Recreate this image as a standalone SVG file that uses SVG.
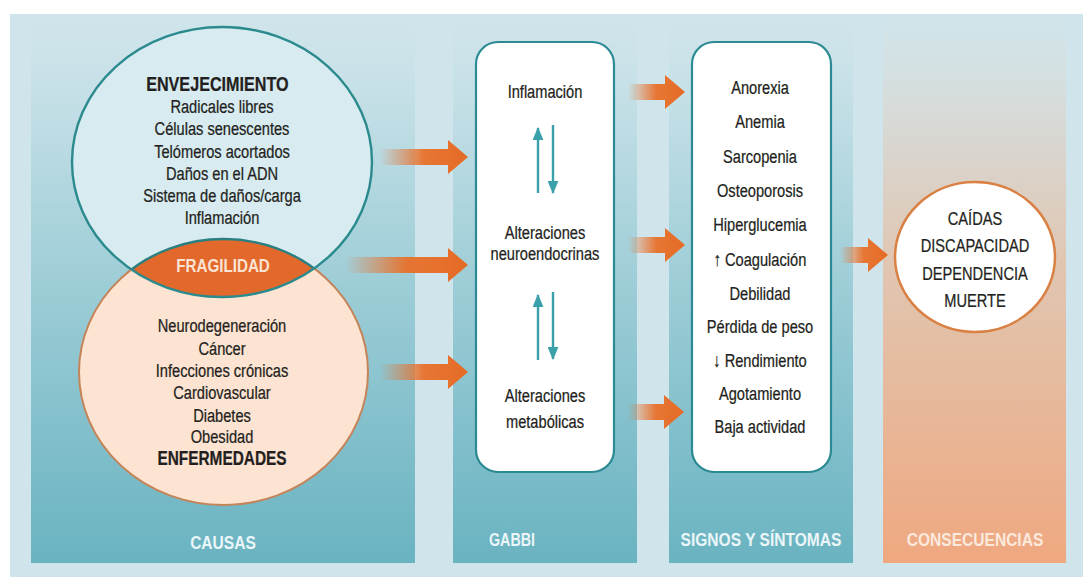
<svg xmlns="http://www.w3.org/2000/svg" width="1083" height="577" viewBox="0 0 1083 577">
  <style>
    .t { font-family: "Liberation Sans", Arial, sans-serif; font-size: 19px; fill: #231f20; stroke: #231f20; stroke-width: 0.25; text-anchor: middle; }
    .b { font-weight: bold; font-size: 20px; }
    .head { font-family: "Liberation Sans", Arial, sans-serif; font-weight: bold; font-size: 19px; fill: #eaf6f8; text-anchor: middle; }
    .box { fill: #ffffff; stroke: #2b8a93; stroke-width: 2.2; }
    .flow { fill: url(#flowGrad); }
    .swap { stroke: #3aa0aa; stroke-width: 2.4; fill: none; marker-end: url(#tealHead); }
  </style>
  <defs>
    <linearGradient id="blueCol" gradientUnits="userSpaceOnUse" x1="0" y1="14" x2="0" y2="563">
      <stop offset="0" stop-color="#d0e5eb"/>
      <stop offset="0.12" stop-color="#c8e1e8"/>
      <stop offset="0.55" stop-color="#97cad4"/>
      <stop offset="1" stop-color="#6ab3c1"/>
    </linearGradient>
    <linearGradient id="peachCol" gradientUnits="userSpaceOnUse" x1="0" y1="14" x2="0" y2="563">
      <stop offset="0" stop-color="#d0e5eb"/>
      <stop offset="0.12" stop-color="#d5dfe0"/>
      <stop offset="0.45" stop-color="#e0c6b2"/>
      <stop offset="1" stop-color="#efa880"/>
    </linearGradient>
    <linearGradient id="flowGrad" x1="0" y1="0" x2="1" y2="0">
      <stop offset="0" stop-color="#e8702a" stop-opacity="0"/>
      <stop offset="0.5" stop-color="#e8702a" stop-opacity="0.95"/>
      <stop offset="1" stop-color="#e56b26"/>
    </linearGradient>
    <clipPath id="clipTop">
      <ellipse cx="222" cy="162" rx="150" ry="135"/>
    </clipPath>
    <marker id="tealHead" viewBox="0 0 12 10" markerWidth="13" markerHeight="11" refX="11" refY="5" orient="auto" markerUnits="userSpaceOnUse">
      <path d="M0,0 L12,5 L0,10 Z" fill="#3aa0aa"/>
    </marker>
  </defs>

  <!-- backdrop and column bands -->
  <g id="backdrop">
    <rect x="0" y="0" width="1083" height="577" fill="#ffffff"/>
    <rect x="10" y="14" width="1073" height="563" fill="#cfe4eb"/>
    <rect x="31" y="14" width="384" height="549" fill="url(#blueCol)"/>
    <rect x="453" y="14" width="184" height="549" fill="url(#blueCol)"/>
    <rect x="669" y="14" width="184" height="549" fill="url(#blueCol)"/>
    <rect x="883" y="14" width="183" height="549" fill="url(#peachCol)"/>
  </g>

  <!-- column captions (condensed by horizontal scaling) -->
  <g id="captions">
    <g transform="translate(223 0) scale(0.82 1)">
      <text class="head" x="0" y="549">CAUSAS</text>
    </g>
    <g transform="translate(489 0) scale(0.82 1)">
      <text class="head" x="0" y="546" style="text-anchor:start" textLength="56" lengthAdjust="spacingAndGlyphs">GABBI</text>
    </g>
    <g transform="translate(761 0) scale(0.82 1)">
      <text class="head" x="0" y="546">SIGNOS Y SÍNTOMAS</text>
    </g>
    <g transform="translate(975 0) scale(0.82 1)">
      <text class="head" x="0" y="546" style="fill:#fbe9dc">CONSECUENCIAS</text>
    </g>
  </g>

  <!-- causes: diseases -->
  <g id="node-enfermedades">
    <ellipse cx="223.5" cy="372" rx="144.5" ry="133" fill="#fde3d1" stroke="#c4845a" stroke-width="2"/>
    <g transform="translate(222 0) scale(0.77 1)">
      <text class="t" x="0" y="332">Neurodegeneración</text>
      <text class="t" x="0" y="355">Cáncer</text>
      <text class="t" x="0" y="377">Infecciones crónicas</text>
      <text class="t" x="0" y="399">Cardiovascular</text>
      <text class="t" x="0" y="422">Diabetes</text>
      <text class="t" x="0" y="443">Obesidad</text>
      <text class="t b" x="0" y="465">ENFERMEDADES</text>
    </g>
  </g>

  <!-- causes: ageing -->
  <g id="node-envejecimiento">
    <ellipse cx="222" cy="162" rx="150" ry="135" fill="#d7ebf0"/>
    <g transform="translate(222 0) scale(0.77 1)">
      <text class="t b" x="-6" y="91" style="font-size:21px">ENVEJECIMIENTO</text>
      <text class="t" x="0" y="113">Radicales libres</text>
      <text class="t" x="0" y="135">Células senescentes</text>
      <text class="t" x="0" y="158">Telómeros acortados</text>
      <text class="t" x="0" y="180">Daños en el ADN</text>
      <text class="t" x="0" y="202">Sistema de daños/carga</text>
      <text class="t" x="0" y="224">Inflamación</text>
    </g>
  </g>

  <!-- overlap of both circles -->
  <g id="node-fragilidad">
    <ellipse cx="223.5" cy="372" rx="144.5" ry="133" fill="#e2692b" stroke="#2b7f80" stroke-width="2.4" clip-path="url(#clipTop)"/>
    <ellipse cx="222" cy="162" rx="150" ry="135" fill="none" stroke="#2b8a8d" stroke-width="2.4"/>
    <g transform="translate(223 0) scale(0.8 1)">
      <text class="t b" x="0" y="272" style="fill:#fbe3d3;stroke:none;font-size:19px">FRAGILIDAD</text>
    </g>
  </g>

  <!-- mechanisms -->
  <g id="node-mecanismos">
    <rect class="box" x="476" y="42" width="138" height="430" rx="22"/>
    <g transform="translate(545 0) scale(0.77 1)">
      <text class="t" x="0" y="98">Inflamación</text>
      <text class="t" x="0" y="239">Alteraciones</text>
      <text class="t" x="0" y="260">neuroendocrinas</text>
      <text class="t" x="0" y="402">Alteraciones</text>
      <text class="t" x="0" y="428">metabólicas</text>
    </g>
  </g>

  <!-- signs and symptoms -->
  <g id="node-signos">
    <rect class="box" x="692" y="42" width="139" height="430" rx="22"/>
    <g transform="translate(760 0) scale(0.77 1)">
      <text class="t" x="0" y="94">Anorexia</text>
      <text class="t" x="0" y="128">Anemia</text>
      <text class="t" x="0" y="163">Sarcopenia</text>
      <text class="t" x="0" y="197">Osteoporosis</text>
      <text class="t" x="0" y="231">Hiperglucemia</text>
      <text class="t" x="0" y="266">↑ Coagulación</text>
      <text class="t" x="0" y="300">Debilidad</text>
      <text class="t" x="0" y="333">Pérdida de peso</text>
      <text class="t" x="0" y="367">↓ Rendimiento</text>
      <text class="t" x="0" y="400">Agotamiento</text>
      <text class="t" x="0" y="433">Baja actividad</text>
    </g>
  </g>

  <!-- consequences -->
  <g id="node-consecuencias">
    <ellipse cx="975" cy="257" rx="80" ry="75" fill="#ffffff" stroke="#d98042" stroke-width="2.5"/>
    <g transform="translate(975 0) scale(0.77 1)">
      <text class="t" x="0" y="225">CAÍDAS</text>
      <text class="t" x="0" y="252">DISCAPACIDAD</text>
      <text class="t" x="0" y="280">DEPENDENCIA</text>
      <text class="t" x="0" y="307">MUERTE</text>
    </g>
  </g>

  <!-- connectors -->
  <g id="connectors">
    <path class="flow" d="M380,149 H448 V140 L468,157 L448,174 V165 H380 Z"/>
    <path class="flow" d="M345,257 H448 V248 L468,265 L448,282 V273 H345 Z"/>
    <path class="flow" d="M380,364 H448 V355 L468,372 L448,389 V380 H380 Z"/>
    <path class="flow" d="M628,84 H665 V75 L685,92 L665,109 V100 H628 Z"/>
    <path class="flow" d="M628,237 H665 V228 L685,245 L665,262 V253 H628 Z"/>
    <path class="flow" d="M628,404 H664 V395 L684,412 L664,429 V420 H628 Z"/>
    <path class="flow" d="M840,247 H868 V238 L888,255 L868,272 V263 H840 Z"/>
    <line class="swap" x1="538" y1="193" x2="538" y2="128"/>
    <line class="swap" x1="553" y1="125" x2="553" y2="193"/>
    <line class="swap" x1="538" y1="360" x2="538" y2="295"/>
    <line class="swap" x1="553" y1="292" x2="553" y2="359"/>
  </g>
</svg>
